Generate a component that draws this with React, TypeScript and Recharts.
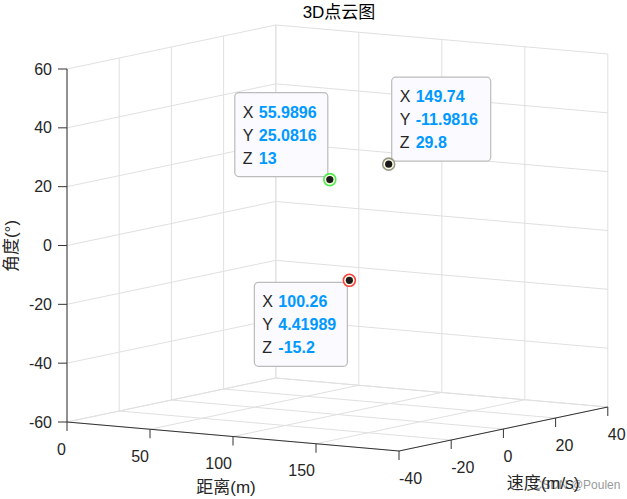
import { ScatterChart, Scatter, XAxis, YAxis, ReferenceLine } from 'recharts';

// picked points: distance (m), speed (m/s), angle (deg)
const distance = [55.9896, 149.74, 100.26];
const speed = [25.0816, -11.9816, 4.41989];
const angle = [13, 29.8, -15.2];

const xTicks = [0, 50, 100, 150, 200];
const xTickLabels = ['0', '50', '100', '150'];
const yTicks = [-40, -20, 0, 20, 40];
const zTicks = [-60, -40, -20, 0, 20, 40, 60];

const X_MIN = 0, X_MAX = 200;
const Y_MIN = -40, Y_MAX = 40;
const Z_MIN = -60, Z_MAX = 60;

const RING_COLORS = ['#4cee4c', '#9a9a8a', '#ff4040'];
const TIP_SIDE = ['upLeft', 'upRight', 'downLeft'];
const TIP_WIDTH = [93, 99, 93];

const W = 627;
const H = 499;
const FONT = '"Liberation Sans", Arial, "Noto Sans CJK SC", sans-serif';
const GRID = '#e0e0e0';
const AXIS = '#333333';
const TEXT = '#262626';

// fixed orthographic view, screen px per data unit
function project(x: number, y: number, z: number) {
  return {
    sx: 67 + (x - X_MIN) * 1.66 + (y - Y_MIN) * 2.61,
    sy: 422 + (x - X_MIN) * 0.145 - (y - Y_MIN) * 0.55 - (z - Z_MIN) * 2.9417,
  };
}

type Pt = { sx: number; sy: number };
const seg = (a: Pt, b: Pt) => [{ x: a.sx, y: a.sy }, { x: b.sx, y: b.sy }];

const gridSegs: any[] = [];
// left wall (x = 0)
zTicks.forEach((z) => gridSegs.push(seg(project(X_MIN, Y_MIN, z), project(X_MIN, Y_MAX, z))));
yTicks.forEach((y) => gridSegs.push(seg(project(X_MIN, y, Z_MIN), project(X_MIN, y, Z_MAX))));
// back wall (y = 40)
zTicks.forEach((z) => gridSegs.push(seg(project(X_MIN, Y_MAX, z), project(X_MAX, Y_MAX, z))));
xTicks.forEach((x) => gridSegs.push(seg(project(x, Y_MAX, Z_MIN), project(x, Y_MAX, Z_MAX))));
// floor (z = -60)
xTicks.forEach((x) => gridSegs.push(seg(project(x, Y_MIN, Z_MIN), project(x, Y_MAX, Z_MIN))));
yTicks.forEach((y) => gridSegs.push(seg(project(X_MIN, y, Z_MIN), project(X_MAX, y, Z_MIN))));

const axisSegs = [
  seg(project(X_MIN, Y_MIN, Z_MIN), project(X_MIN, Y_MIN, Z_MAX)),
  seg(project(X_MIN, Y_MIN, Z_MIN), project(X_MAX, Y_MIN, Z_MIN)),
  seg(project(X_MAX, Y_MIN, Z_MIN), project(X_MAX, Y_MAX, Z_MIN)),
];

const tickSegs: any[] = [];
zTicks.forEach((z) => {
  const p = project(X_MIN, Y_MIN, z);
  tickSegs.push(seg(p, { sx: p.sx - 9, sy: p.sy }));
});
xTickLabels.forEach((_, i) => {
  const p = project(xTicks[i], Y_MIN, Z_MIN);
  tickSegs.push(seg(p, { sx: p.sx, sy: p.sy + 9 }));
});
yTicks.forEach((y) => {
  const p = project(X_MAX, y, Z_MIN);
  tickSegs.push(seg(p, { sx: p.sx, sy: p.sy + 9 }));
});

const tickLabels = [
  ...zTicks.map((z) => {
    const p = project(X_MIN, Y_MIN, z);
    return { sx: p.sx - 15, sy: p.sy, text: String(z), anchor: 'end' };
  }),
  ...xTickLabels.map((t, i) => {
    const p = project(xTicks[i], Y_MIN, Z_MIN);
    return { sx: p.sx - 1, sy: p.sy + 27, text: t, anchor: 'end' };
  }),
  ...yTicks.map((y) => {
    const p = project(X_MAX, y, Z_MIN);
    return { sx: p.sx, sy: p.sy + 27, text: String(y), anchor: 'start' };
  }),
];

const points = distance.map((d, i) => ({
  ...project(d, speed[i], angle[i]),
  x: d,
  y: speed[i],
  z: angle[i],
  i,
}));

const renderTickLabel = (props: any) => {
  const { cx, cy, payload } = props;
  return (
    <text x={cx} y={cy} dy="0.35em" textAnchor={payload.anchor} fontSize={16} fontFamily={FONT} fill={TEXT}>
      {payload.text}
    </text>
  );
};

const renderTip = (props: any) => {
  const { cx, cy, payload } = props;
  const w = TIP_WIDTH[payload.i];
  const h = 84;
  const side = TIP_SIDE[payload.i];
  const left = side === 'upRight' ? cx + 3 : cx - 2 - w;
  const top = side === 'downLeft' ? cy + 2 : cy - 3 - h;
  const rows = [
    ['X', String(payload.x)],
    ['Y', String(payload.y)],
    ['Z', String(payload.z)],
  ];
  return (
    <g>
      <rect x={left} y={top} width={w} height={h} rx={4} fill="#fafaff" stroke="#bcbcbc" strokeWidth={1.2} />
      {rows.map(([k, v], r) => (
        <g key={k}>
          <text x={left + 8} y={top + 19.5 + r * 23} dy="0.35em" fontSize={16} fontFamily={FONT} fill={TEXT}>
            {k}
          </text>
          <text
            x={left + 24}
            y={top + 19.5 + r * 23}
            dy="0.35em"
            fontSize={16}
            fontWeight="bold"
            fontFamily={FONT}
            fill="#0099ff"
          >
            {v}
          </text>
        </g>
      ))}
    </g>
  );
};

const renderMarker = (props: any) => {
  const { cx, cy, payload } = props;
  return (
    <g>
      <circle cx={cx} cy={cy} r={6} fill="#fffde6" stroke={RING_COLORS[payload.i]} strokeWidth={1.6} />
      <circle cx={cx} cy={cy} r={3.6} fill="#1a1a1a" />
    </g>
  );
};

const abs = (x: number, y: number, extra: any = {}) => ({
  position: 'absolute' as const,
  left: x,
  top: y,
  transform: 'translate(-50%, -50%)',
  whiteSpace: 'nowrap' as const,
  lineHeight: 1,
  fontFamily: FONT,
  color: TEXT,
  ...extra,
});

export default function App() {
  return (
    <div style={{ position: 'absolute', left: 0, top: 0, width: W, height: H, background: '#fff' }}>
      <ScatterChart width={W} height={H} margin={{ top: 0, right: 0, bottom: 0, left: 0 }}>
        <XAxis type="number" dataKey="sx" domain={[0, W]} hide allowDataOverflow />
        <YAxis type="number" dataKey="sy" domain={[0, H]} reversed hide allowDataOverflow />
        {gridSegs.map((s, i) => (
          <ReferenceLine key={`g${i}`} segment={s} stroke={GRID} strokeWidth={1} ifOverflow="visible" />
        ))}
        {axisSegs.map((s, i) => (
          <ReferenceLine key={`a${i}`} segment={s} stroke={AXIS} strokeWidth={1} ifOverflow="visible" />
        ))}
        {tickSegs.map((s, i) => (
          <ReferenceLine key={`t${i}`} segment={s} stroke={AXIS} strokeWidth={1} ifOverflow="visible" />
        ))}
        <Scatter data={tickLabels} shape={renderTickLabel} isAnimationActive={false} />
        <Scatter data={points} shape={renderTip} isAnimationActive={false} />
        <Scatter data={points} shape={renderMarker} isAnimationActive={false} />
      </ScatterChart>
      <div style={abs(339, 12, { fontSize: 17, color: '#000' })}>3D点云图</div>
      <div style={abs(11, 246, { fontSize: 17, transform: 'translate(-50%, -50%) rotate(-90deg)' })}>角度(°)</div>
      <div style={abs(226, 487, { fontSize: 17 })}>距离(m)</div>
      <div style={abs(577, 485, { fontSize: 12, color: '#9a9a9a' })}>CSDN @Poulen</div>
      <div style={abs(543, 483, { fontSize: 17 })}>速度(m/s)</div>
    </div>
  );
}
